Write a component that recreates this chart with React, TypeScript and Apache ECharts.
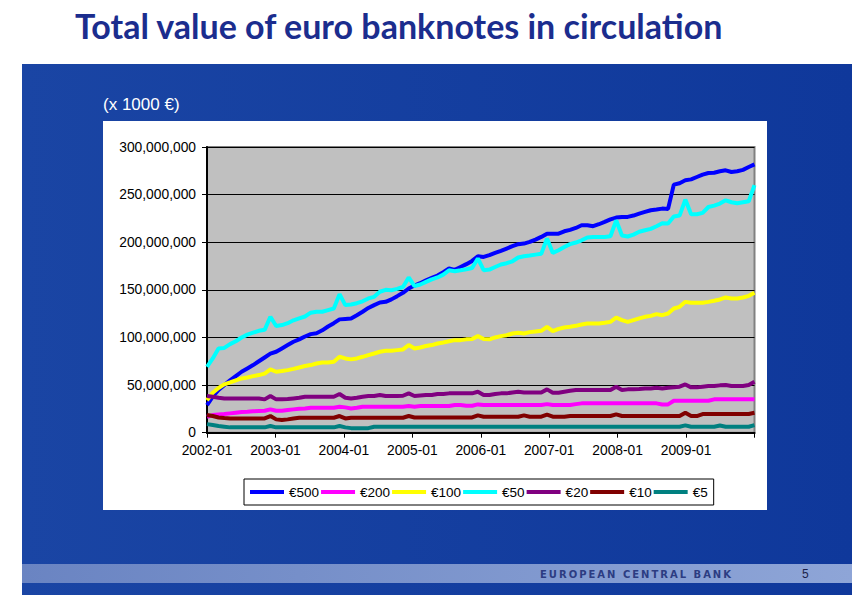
import React, { useEffect, useRef } from "react";
import * as echarts from "echarts";

// Monthly categories 2002-01 .. 2009-12
const months: string[] = [];
for (let y = 2002; y <= 2009; y++) {
  for (let m = 1; m <= 12; m++) months.push(`${y}-${m < 10 ? "0" + m : m}`);
}

// Year tick labels of the visible axis
const tickLabels = ["2002-01", "2003-01", "2004-01", "2005-01", "2006-01", "2007-01", "2008-01", "2009-01"];

// Values in millions of the axis unit (x 1000 €)
const e500 = [
  29, 38, 45, 50, 55, 59.5, 64, 67.5, 71, 75, 79, 83,
  85, 88.5, 92, 95.5, 98, 101, 103.5, 104.5, 107.5, 111.5, 115, 119,
  119.5, 120, 123.4, 127, 131, 134, 136.7, 137.4, 140, 143.4, 146.9, 151.4,
  154.5, 157, 160, 162.5, 165, 168.5, 172.4, 171, 174, 177, 180.4, 185.3,
  184.6, 186.4, 188.8, 191, 193.4, 195.8, 198, 198.6, 200.3, 202.8, 205.6, 209,
  209, 209, 211.5, 213, 215, 217.8, 217.8, 216.8, 218.9, 221.3, 224, 225.9,
  226.6, 226.6, 228, 230, 231.8, 233.6, 234.3, 235.3, 235, 260.5, 262, 265,
  266, 268.5, 271, 272.7, 273, 274.5, 275.5, 273.8, 274.5, 276, 279, 281.8,
];
const e200 = [
  16.8, 18.5, 19.2, 19.6, 20.3, 21, 21.7, 22, 22.4, 22.7, 23, 24.5,
  23, 23, 23.8, 24.5, 25.2, 25.5, 26.2, 26.2, 26.2, 26.2, 26.2, 27.3,
  26.6, 25.5, 26.2, 27.3, 27.3, 27.3, 27.3, 27.3, 27.3, 27.3, 27.3, 28,
  27.3, 28, 28, 28, 28, 28, 28, 29, 29, 28.3, 28.3, 29.7,
  29, 29, 29, 29, 29, 29, 29, 29, 29, 29, 29, 30,
  29, 29, 29, 29, 30, 30.8, 30.8, 30.8, 30.8, 30.8, 30.8, 30.8,
  30.8, 30.8, 30.8, 30.8, 30.8, 30.8, 30.8, 29.7, 29.7, 33.5, 33.5, 33.5,
  33.5, 33.5, 33.5, 33.5, 35, 35, 35, 35, 35, 35, 35, 35,
];
const e100 = [
  34, 42, 47, 50.7, 52.8, 55, 57, 58, 59.4, 60.5, 62, 66.4,
  64, 64.7, 65.7, 67, 68.5, 70, 71, 72.7, 73.8, 73.8, 74.5, 79.7,
  78, 77, 78, 79.7, 81.5, 83.2, 85, 86, 86, 86.7, 87.4, 92,
  88.5, 89.5, 91, 92, 93.7, 94.8, 96, 97.2, 97.2, 98, 98.3, 101.4,
  98.3, 98, 100, 101.4, 102.4, 104.2, 105, 104.2, 105.6, 106.3, 107, 111.2,
  106.6, 109, 110.5, 111.2, 112.2, 113.6, 114.7, 114.7, 114.7, 115.4, 116.4, 121,
  118.2, 116.4, 118.2, 120, 121.7, 122.7, 124.5, 123.4, 125.2, 130.4, 132.2, 137.4,
  136.4, 136.4, 136.4, 137.4, 138.5, 139.9, 142, 140.9, 140.9, 142, 143.7, 146.9,
];
const e50 = [
  69, 78, 88.5, 89, 93, 96, 100, 103, 105, 107, 108, 121.7,
  112, 113, 115, 118, 120, 122, 126, 127, 127, 128.7, 130.4, 145.5,
  134, 134.6, 136, 138, 141, 142.7, 148, 150, 149.6, 151, 153, 163,
  154, 155.6, 158.4, 161, 163, 166, 170.6, 169.6, 170.6, 171.7, 173, 183,
  170.6, 171.3, 174, 176.6, 178, 180, 184, 185.3, 186, 187, 187.8, 204,
  188.8, 191.6, 195, 198, 199.7, 202, 205, 205.6, 205.6, 205.6, 206.3, 223,
  207, 206, 208, 211, 212.6, 214, 216.8, 220, 219.6, 227, 228, 244.8,
  229.4, 229.4, 230.8, 237, 238.5, 240.6, 244, 242, 241, 242, 243, 260,
];
const e20 = [
  38.5, 37.8, 36.7, 36, 36, 36, 36, 36, 36, 36, 35, 38.5,
  35, 35, 35.3, 36, 36.7, 37.8, 37.8, 37.8, 37.8, 37.8, 37.8, 40.6,
  36.7, 36, 36.7, 37.8, 38.5, 38.5, 39.5, 38.5, 38.5, 38.5, 38.8, 41.3,
  38.5, 39, 39.5, 39.5, 40.6, 40.6, 41.3, 41.3, 41.3, 41.3, 41.3, 43,
  39.5, 39.5, 40.6, 41.3, 41.3, 42.3, 43, 42.3, 42.3, 42.3, 42.3, 45.5,
  42, 42, 43, 44, 44.8, 44.8, 44.8, 44.8, 44.8, 44.8, 44.8, 48.3,
  44.8, 45.5, 45.5, 45.8, 46.5, 46.5, 47.2, 46.5, 47.2, 47.6, 48.3, 50.7,
  47.6, 47.6, 48.3, 49, 49, 49.7, 50, 49, 49, 49, 50, 53.5,
];
const e10 = [
  18.5, 17.5, 16, 15.4, 15, 15, 15, 15, 15, 15, 15, 17.5,
  14, 13.3, 14, 15, 15.7, 15.7, 15.7, 15.7, 15.7, 15.7, 15.7, 17.5,
  15, 15.7, 15.7, 15.7, 15.7, 15.7, 15.7, 15.7, 15.7, 15.7, 15.7, 17.5,
  16, 16, 16, 16, 16, 16, 16, 16, 16, 16, 16, 18.2,
  16.8, 16.8, 16.8, 16.8, 16.8, 16.8, 16.8, 18.2, 16.8, 16.8, 16.8, 19,
  16.8, 16.8, 16.8, 17.5, 17.5, 17.5, 17.5, 17.5, 17.5, 17.5, 17.5, 19.2,
  17.5, 17.5, 17.5, 17.5, 17.5, 17.5, 17.5, 17.5, 17.5, 17.5, 17.5, 21,
  17.5, 17.5, 19.6, 19.6, 19.6, 19.6, 19.6, 19.6, 19.6, 19.6, 19.6, 21,
];
const e5 = [
  9, 8, 7, 6.3, 5.6, 5.6, 5.6, 5.6, 5.6, 5.6, 5.6, 7,
  5.6, 5.6, 5.6, 5.6, 5.6, 5.6, 5.6, 5.6, 5.6, 5.6, 5.6, 7,
  5.6, 4.8, 4.8, 4.8, 4.8, 6.3, 6.3, 6.3, 6.3, 6.3, 6.3, 6.3,
  6.3, 6.3, 6.3, 6.3, 6.3, 6.3, 6.3, 6.3, 6.3, 6.3, 6.3, 6.3,
  6.3, 6.3, 6.3, 6.3, 6.3, 6.3, 6.3, 6.3, 6.3, 6.3, 6.3, 6.3,
  6.3, 6.3, 6.3, 6.3, 6.3, 6.3, 6.3, 6.3, 6.3, 6.3, 6.3, 6.3,
  6.3, 6.3, 6.3, 6.3, 6.3, 6.3, 6.3, 6.3, 6.3, 6.3, 6.3, 7.7,
  6.3, 6.3, 6.3, 6.3, 6.3, 7.5, 6.3, 6.3, 6.3, 6.3, 6.3, 8,
];

const seriesNames = ["€500", "€200", "€100", "€50", "€20", "€10", "€5"];
const seriesData = [e500, e200, e100, e50, e20, e10, e5];
const seriesColors = ["#0000FF", "#FF00FF", "#FFFF00", "#00FFFF", "#800080", "#800000", "#008080"];

const FONT = "Arial, 'Liberation Sans', sans-serif";

export default function App() {
  const ref = useRef<HTMLDivElement>(null);
  useEffect(() => {
    if (!ref.current) return;
    const chart = echarts.init(ref.current, undefined, { renderer: "svg" });
    const footerText = "EUROPEAN CENTRAL BANK".split("").join("\u2009");
    chart.setOption({
      animation: false,
      backgroundColor: "#ffffff",
      graphic: [
        {
          type: "rect",
          z: -20,
          shape: { x: 22, y: 64, width: 830, height: 531 },
          style: {
            fill: {
              type: "linear", x: 0, y: 0, x2: 1, y2: 0,
              colorStops: [
                { offset: 0, color: "#1a45a4" },
                { offset: 1, color: "#0f389b" },
              ],
            },
          },
        },
        {
          type: "rect",
          z: -19,
          shape: { x: 22, y: 564, width: 830, height: 19 },
          style: {
            fill: {
              type: "linear", x: 0, y: 0, x2: 1, y2: 0,
              colorStops: [
                { offset: 0, color: "#6a84c2" },
                { offset: 1, color: "#8ea5d7" },
              ],
            },
          },
        },
        {
          type: "rect",
          z: -18,
          shape: { x: 103, y: 121, width: 664, height: 389 },
          style: { fill: "#ffffff" },
        },
        {
          type: "text",
          x: 75,
          y: 25,
          style: {
            text: "Total value of euro banknotes in circulation",
            fill: "#1b2d8e",
            font: "bold 34px Lato, 'Open Sans', sans-serif",
            verticalAlign: "middle",
          },
        },
        {
          type: "text",
          x: 103,
          y: 104,
          style: {
            text: "(x 1000 €)",
            fill: "#ffffff",
            font: `17px ${FONT}`,
            verticalAlign: "middle",
          },
        },
        {
          type: "text",
          x: 540,
          y: 574,
          style: {
            text: footerText,
            fill: "#2c3c82",
            font: "bold 10px 'DejaVu Sans', sans-serif",
            verticalAlign: "middle",
          },
        },
        {
          type: "text",
          x: 802,
          y: 574,
          style: {
            text: "5",
            fill: "#1a1f4a",
            font: `12px ${FONT}`,
            verticalAlign: "middle",
          },
        },
      ],
      legend: {
        left: 244,
        top: 479,
        orient: "horizontal",
        padding: [6, 6],
        itemGap: 2,
        itemWidth: 34,
        itemHeight: 4,
        icon: "rect",
        borderColor: "#000",
        borderWidth: 1,
        backgroundColor: "#fff",
        textStyle: { fontSize: 13.5, fontFamily: FONT, color: "#000" },
        data: seriesNames,
      },
      grid: {
        left: 207,
        top: 147,
        right: 111.5,
        bottom: 172.3,
        show: true,
        backgroundColor: "#C0C0C0",
        borderColor: "#808080",
        borderWidth: 2,
      },
      xAxis: [
        {
          type: "category",
          data: months,
          boundaryGap: false,
          axisLine: { show: false },
          axisTick: { show: false },
          axisLabel: { show: false },
          splitLine: { show: false },
        },
        {
          type: "value",
          min: 0,
          max: 8,
          interval: 1,
          position: "bottom",
          axisLine: { show: true, onZero: false, lineStyle: { color: "#000", width: 2 } },
          axisTick: { show: true, length: 5, lineStyle: { color: "#000", width: 1 } },
          axisLabel: {
            formatter: (v: number) => tickLabels[v] ?? "",
            fontSize: 13.8,
            fontFamily: FONT,
            color: "#000",
            margin: 11,
          },
          splitLine: { show: false },
        },
      ],
      yAxis: {
        type: "value",
        min: 0,
        max: 300,
        interval: 50,
        axisLine: { show: true, lineStyle: { color: "#000", width: 2 } },
        axisTick: { show: true, length: 5, lineStyle: { color: "#000", width: 1 } },
        axisLabel: {
          formatter: (v: number) => (v * 1e6).toLocaleString("en-US"),
          fontSize: 13.8,
          fontFamily: FONT,
          color: "#000",
          margin: 11,
        },
        splitLine: { show: true, lineStyle: { color: "#000", width: 1 } },
      },
      series: seriesNames.map((name, i) => ({
        name,
        type: "line",
        xAxisIndex: 0,
        data: seriesData[i],
        symbol: "none",
        color: seriesColors[i],
        lineStyle: { width: 4, color: seriesColors[i] },
        z: 2 + i,
      })),
    });
    return () => chart.dispose();
  }, []);
  return (
    <div
      ref={ref}
      style={{ position: "absolute", left: 0, top: 0, width: 866, height: 605 }}
    />
  );
}
